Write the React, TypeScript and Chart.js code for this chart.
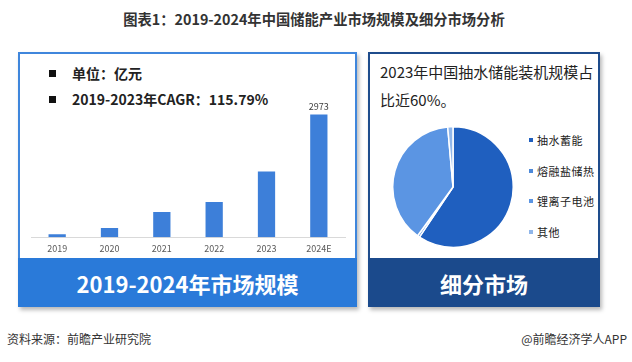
import React, { useEffect, useRef } from "react";
import { Chart, registerables } from "chart.js";

Chart.register(...registerables);

const FONT = "'Noto Sans CJK SC', 'Noto Sans', sans-serif";

// ---- data ----
const years = ["2019", "2020", "2021", "2022", "2023", "2024E"];
const marketSize = [73, 220, 610, 850, 1590, 2973];
const labeledBars = [5];

const segments = ["抽水蓄能", "熔融盐储热", "锂离子电池", "其他"];
const segmentShares = [59.4, 0.6, 38.6, 1.4];
const segmentColors = ["#1f5fbf", "#4d89d9", "#5b95e3", "#8fb6ea"];

const titleText = "图表1：2019-2024年中国储能产业市场规模及细分市场分析";
const unitText = "单位：亿元";
const cagrText = "2019-2023年CAGR：115.79%";
const leftBanner = "2019-2024年市场规模";
const rightBanner = "细分市场";
const pieNote1 = "2023年中国抽水储能装机规模占";
const pieNote2 = "比近60%。";
const sourceText = "资料来源：前瞻产业研究院";
const brandText = "@前瞻经济学人APP";

const valueLabelPlugin = {
  id: "valueLabel",
  afterDatasetsDraw(chart: any) {
    const ctx = chart.ctx;
    const meta = chart.getDatasetMeta(0);
    ctx.save();
    ctx.font = `9px ${FONT}`;
    ctx.fillStyle = "#404040";
    ctx.textAlign = "center";
    ctx.textBaseline = "bottom";
    labeledBars.forEach((i) => {
      const el = meta.data[i];
      ctx.fillText(String(marketSize[i]), el.x, el.y - 3);
    });
    ctx.restore();
  },
};

function BarChart() {
  const ref = useRef<HTMLCanvasElement>(null);
  useEffect(() => {
    const chart = new Chart(ref.current!, {
      type: "bar",
      data: {
        labels: years,
        datasets: [
          {
            data: marketSize,
            backgroundColor: "#3d7fd9",
            categoryPercentage: 1,
            barPercentage: 0.33,
          },
        ],
      },
      options: {
        animation: false,
        responsive: false,
        maintainAspectRatio: false,
        layout: { padding: { left: 11, right: 11, top: 0, bottom: 3 } },
        plugins: { legend: { display: false }, tooltip: { enabled: false } },
        scales: {
          x: {
            grid: { display: false, drawTicks: false },
            border: { display: true, color: "#d9d9d9", width: 1 },
            ticks: { color: "#595959", font: { size: 9, family: FONT }, padding: 6 },
          },
          y: { display: false, min: 0, max: 4290 },
        },
      },
      plugins: [valueLabelPlugin],
    });
    return () => chart.destroy();
  }, []);
  return (
    <canvas
      ref={ref}
      width={336}
      height={203}
      style={{ position: "absolute", left: 20, top: 60, width: 336, height: 203 }}
    />
  );
}

function PieChart() {
  const ref = useRef<HTMLCanvasElement>(null);
  useEffect(() => {
    const chart = new Chart(ref.current!, {
      type: "pie",
      data: {
        labels: segments,
        datasets: [
          {
            data: segmentShares,
            backgroundColor: segmentColors,
            borderColor: "#ffffff",
            borderWidth: 1.5,
          },
        ],
      },
      options: {
        animation: false,
        responsive: false,
        maintainAspectRatio: false,
        layout: { padding: 0 },
        plugins: { legend: { display: false }, tooltip: { enabled: false } },
      },
    });
    return () => chart.destroy();
  }, []);
  return (
    <canvas
      ref={ref}
      width={122}
      height={122}
      style={{ position: "absolute", left: 392, top: 126, width: 122, height: 122 }}
    />
  );
}

const abs = (s: React.CSSProperties): React.CSSProperties => ({ position: "absolute", whiteSpace: "nowrap", ...s });

export default function App() {
  return (
    <div
      style={{
        position: "fixed",
        left: 0,
        top: 0,
        width: 632,
        height: 362,
        background: "#ffffff",
        overflow: "hidden",
        fontFamily: FONT,
        color: "#222",
      }}
    >
      <div style={abs({ left: 0, top: 8, width: 628, lineHeight: "22px", fontSize: 14.3, fontWeight: 700, textAlign: "center", color: "#333" })}>
        {titleText}
      </div>

      {/* left panel */}
      <div
        style={abs({
          left: 18,
          top: 52,
          width: 339,
          height: 255,
          boxSizing: "border-box",
          border: "2px solid #3f86dc",
          boxShadow: "2px 3px 4px rgba(0,0,0,0.28)",
        })}
      >
        <div
          style={abs({
            left: -2,
            right: -2,
            bottom: -2,
            height: 49,
            background: "#2a7ad9",
            color: "#fff",
            fontSize: 22,
            fontWeight: 700,
            textAlign: "center",
            lineHeight: "50px",
          })}
        >
          {leftBanner}
        </div>
      </div>
      <div style={abs({ left: 49, top: 70, width: 7, height: 7, background: "#111" })} />
      <div style={abs({ left: 72, top: 63, lineHeight: "20px", fontSize: 14, fontWeight: 700, color: "#222" })}>{unitText}</div>
      <div style={abs({ left: 49, top: 96, width: 7, height: 7, background: "#111" })} />
      <div style={abs({ left: 72, top: 89, lineHeight: "20px", fontSize: 14, fontWeight: 700, color: "#222" })}>{cagrText}</div>
      <BarChart />

      {/* right panel */}
      <div
        style={abs({
          left: 368,
          top: 52,
          width: 232,
          height: 255,
          boxSizing: "border-box",
          border: "2px solid #1e4c8c",
          boxShadow: "2px 3px 4px rgba(0,0,0,0.28)",
        })}
      >
        <div
          style={abs({
            left: -2,
            right: -2,
            bottom: -2,
            height: 49,
            background: "#1b4a8c",
            color: "#fff",
            fontSize: 22,
            fontWeight: 700,
            textAlign: "center",
            lineHeight: "50px",
          })}
        >
          {rightBanner}
        </div>
      </div>
      <div style={abs({ left: 380, top: 62, lineHeight: "20px", fontSize: 15, color: "#222" })}>{pieNote1}</div>
      <div style={abs({ left: 380, top: 90, lineHeight: "20px", fontSize: 15, color: "#222" })}>{pieNote2}</div>
      <PieChart />
      {segments.map((s, i) => (
        <React.Fragment key={s}>
          <div style={abs({ left: 529, top: 138 + i * 30.5, width: 4, height: 4, background: segmentColors[i] })} />
          <div style={abs({ left: 537, top: 132 + i * 30.5, lineHeight: "16px", fontSize: 11, letterSpacing: 0.5, color: "#222" })}>{s}</div>
        </React.Fragment>
      ))}

      <div style={abs({ left: 7, top: 331, lineHeight: "16px", fontSize: 12, color: "#333" })}>{sourceText}</div>
      <div style={abs({ right: 5, top: 331, lineHeight: "16px", fontSize: 12, color: "#333" })}>{brandText}</div>
    </div>
  );
}
